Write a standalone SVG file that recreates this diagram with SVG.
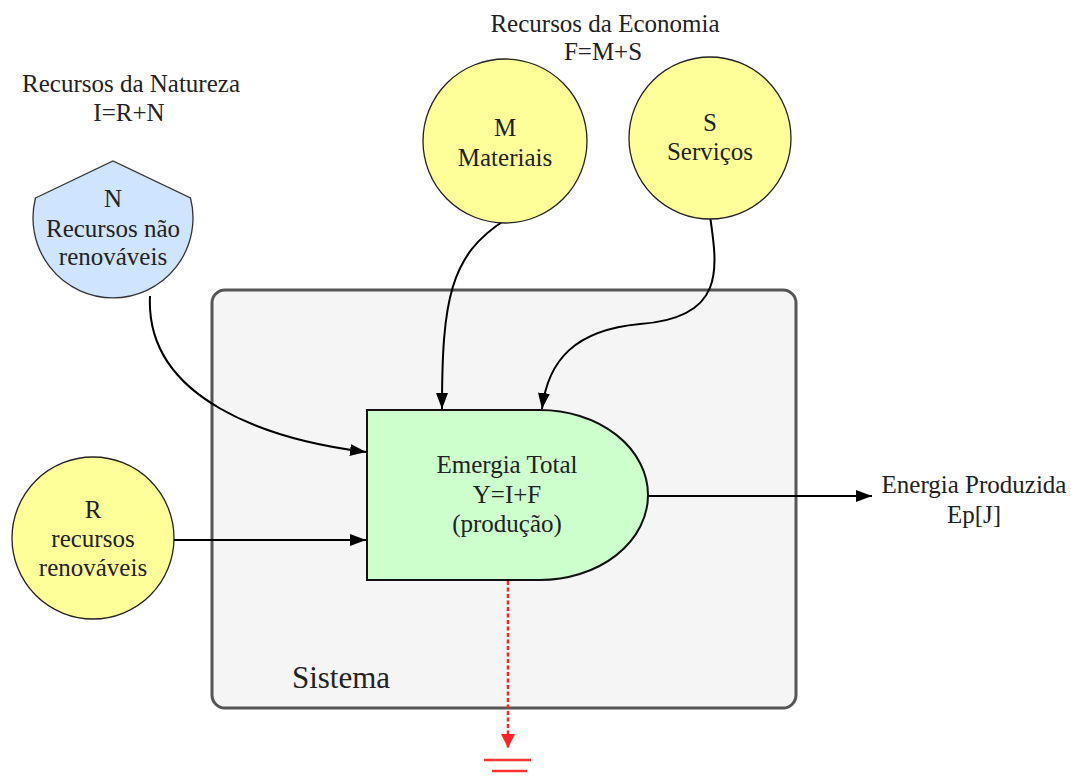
<svg xmlns="http://www.w3.org/2000/svg" width="1071" height="781" viewBox="0 0 1071 781">
<defs>
<style>
text{font-family:"Liberation Serif","Times New Roman",serif;font-size:25px;fill:#222;text-anchor:middle}
.yel{fill:#ffff99;stroke:#222;stroke-width:1.3}
.conn{fill:none;stroke:#000;stroke-width:2}
</style>
<marker id="arr" viewBox="0 0 16 12" refX="16" refY="6" markerWidth="16" markerHeight="12" markerUnits="userSpaceOnUse" orient="auto">
<path d="M0,0 L16,6 L0,12 Z" fill="#000"/>
</marker>
<marker id="arrRed" viewBox="0 0 14 14" refX="14" refY="7" markerWidth="14" markerHeight="14" markerUnits="userSpaceOnUse" orient="auto">
<path d="M0,0 L14,7 L0,14 Z" fill="#ff2222"/>
</marker>
</defs>
<rect width="1071" height="781" fill="#fff"/>

<g id="sistema">
<rect x="212" y="290" width="584" height="418" rx="13" fill="#f5f5f5" stroke="#555" stroke-width="3"/>
<text x="341" y="688" style="font-size:31px">Sistema</text>
</g>

<g id="label-natureza">
<text x="131" y="92">Recursos da Natureza</text>
<text x="129" y="121">I=R+N</text>
</g>
<g id="label-economia">
<text x="605" y="32">Recursos da Economia</text>
<text x="603" y="60">F=M+S</text>
</g>

<g id="connectors">
<path class="conn" d="M150,296 C145,400 270,440 366,452" marker-end="url(#arr)"/>
<path class="conn" d="M174,540 L366,540" marker-end="url(#arr)"/>
<path class="conn" d="M505,220 C450,255 442,300 442,409" marker-end="url(#arr)"/>
<path class="conn" d="M710,216 C718,270 725,318 640,324 C575,330 548,360 542,409" marker-end="url(#arr)"/>
<path class="conn" d="M648,496 L872,496" marker-end="url(#arr)"/>
<path d="M508,581 L508,748" fill="none" stroke="#ff2222" stroke-width="2.5" stroke-dasharray="4,2.5" marker-end="url(#arrRed)"/>
<path d="M484,760 L531,760 M492,771 L527,771" stroke="#ff3333" stroke-width="2.5" fill="none"/>
</g>

<g id="node-N">
<path d="M35.5,198 L113,161 L190.5,198 A80,80 0 1 1 35.5,198 Z" fill="#cfe4ff" stroke="#333" stroke-width="1.3"/>
<text x="113" y="207">N</text>
<text x="113" y="237">Recursos não</text>
<text x="113" y="265">renováveis</text>
</g>

<g id="node-R">
<circle class="yel" cx="93" cy="538" r="81"/>
<text x="93" y="518">R</text>
<text x="93" y="547">recursos</text>
<text x="93" y="576">renováveis</text>
</g>

<g id="node-M">
<circle class="yel" cx="505" cy="141" r="82"/>
<text x="505" y="136">M</text>
<text x="505" y="166">Materiais</text>
</g>

<g id="node-S">
<circle class="yel" cx="710" cy="138" r="81"/>
<text x="710" y="131">S</text>
<text x="710" y="160">Serviços</text>
</g>

<g id="node-Y">
<path d="M367,410 L540,410 A108,85 0 0 1 540,580 L367,580 Z" fill="#ccffcc" stroke="#111" stroke-width="2"/>
<text x="507" y="473">Emergia Total</text>
<text x="507" y="503">Y=I+F</text>
<text x="507" y="532">(produção)</text>
</g>

<g id="label-output">
<text x="974" y="493">Energia Produzida</text>
<text x="974" y="523">Ep[J]</text>
</g>
</svg>
